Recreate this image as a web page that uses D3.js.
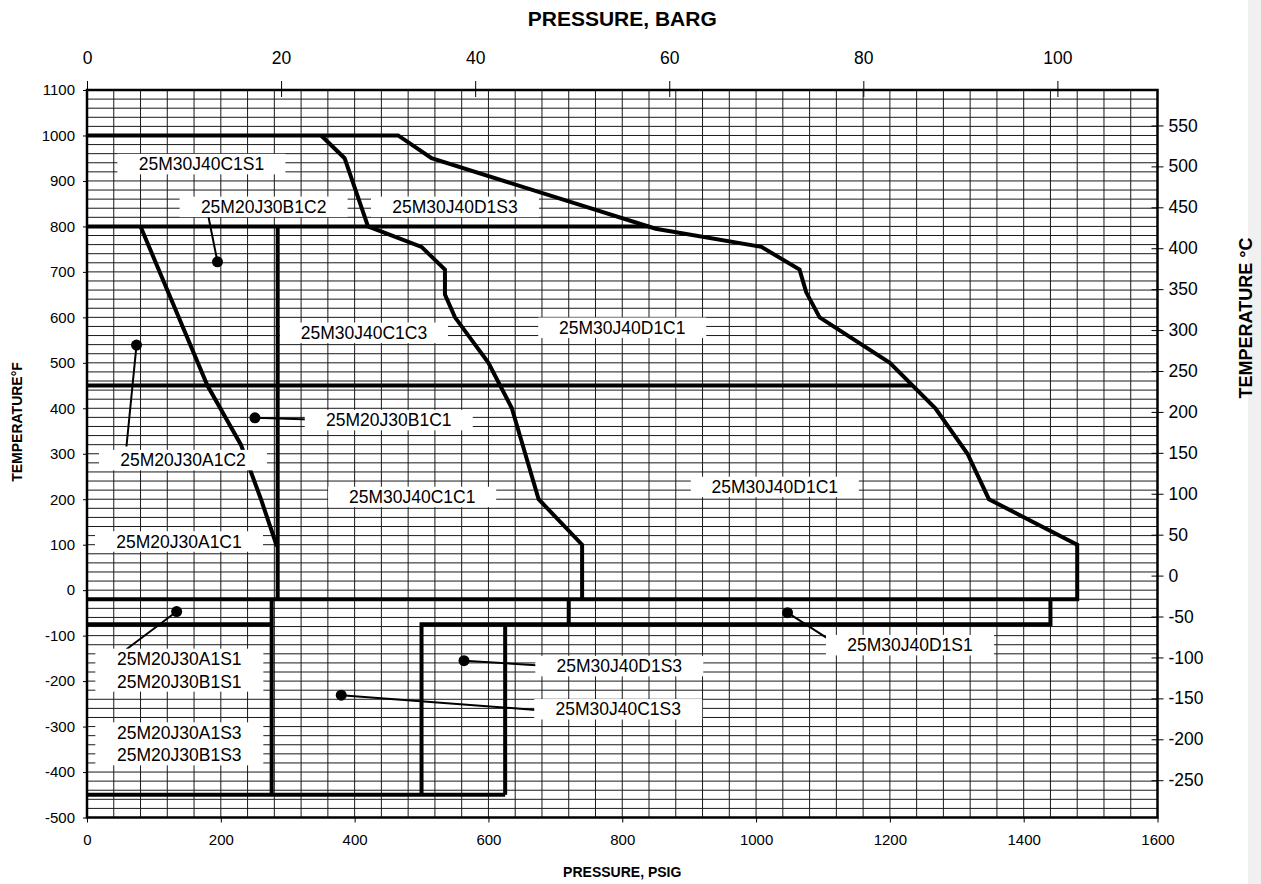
<!DOCTYPE html>
<html><head><meta charset="utf-8">
<script src="https://cdn.jsdelivr.net/npm/d3@7"></script>
<style>
body{margin:0;background:#fff;}
svg{display:block;font-family:"Liberation Sans",Arial,sans-serif;}
</style></head>
<body><svg id="c" width="1261" height="884"></svg>
<script>
// ---- data ----
const psigTicks = [0,200,400,600,800,1000,1200,1400,1600];
const bargTicks = [0,20,40,60,80,100];
const tempFTicks = [-500,-400,-300,-200,-100,0,100,200,300,400,500,600,700,800,900,1000,1100];
const tempCTicks = [-250,-200,-150,-100,-50,0,50,100,150,200,250,300,350,400,450,500,550];

// boundary lines: [psig, °F]
const lineD1 = [[0,1000],[465,1000],[515,950],[850,795],[1008,755],[1065,705],[1075,655],[1095,600],[1200,500],[1268,400],[1316,300],[1348,200],[1480,100],[1480,-20],[0,-20]];
const lineC1 = [[350,1000],[385,950],[420,800],[500,755],[535,705],[535,650],[550,600],[600,500],[635,400],[675,200],[740,100],[740,-20]];
const line800 = [[0,800],[840,800]];
const line450 = [[0,450],[1234,450]];
const lineB1 = [[285,800],[285,-20]];
const lineA1 = [[80,800],[180,450],[230,320],[260,200],[283,100],[285,100]];
const lineMinus75Left = [[0,-75],[276,-75]];
const lineLowVert = [[276,-20],[276,-450]];
const lineBottom = [[0,-450],[625,-450]];
const lineS = [[500,-450],[500,-75],[1440,-75],[1440,-20]];
const lineStep720 = [[720,-20],[720,-75]];
const line625 = [[625,-75],[625,-450]];
const boundaries = [lineD1,lineC1,line800,line450,lineB1,lineA1,lineMinus75Left,lineLowVert,lineBottom,lineS,lineStep720,line625];

// region labels: text lines, anchor [psig, °F]
const labelTexts = [
  ["25M30J40C1S1"],["25M20J30B1C2"],["25M30J40D1S3"],["25M30J40C1C3"],["25M30J40D1C1"],
  ["25M20J30A1C2"],["25M20J30B1C1"],["25M30J40C1C1"],["25M30J40D1C1"],["25M20J30A1C1"],
  ["25M30J40D1S1"],["25M20J30A1S1","25M20J30B1S1"],["25M30J40D1S3"],["25M30J40C1S3"],
  ["25M20J30A1S3","25M20J30B1S3"]
];
const labelPsig = [171,264,550,414,800,143.5,451,486,1028,137.5,1230,138,795.6,794,138];
const labelTempF = [937,843,843,566,577,286,374,205,227,107,-121,-176,-167,-262,-338];

// pointer dots [psig, °F] and leader ends [psig, °F]
const dotPts = [[195,722],[74,539],[251,379],[134,-47],[380,-231],[563.5,-155],[1047,-49.5]];
const leaderEnds = [[181,825],[59,316],[346,375],[59,-130],[684.5,-265],[689.5,-167],[1130,-128]];

// ---- drawing ----
const svg = d3.select("#c");
const X0=87, X1=1157.5, Y0=90, Y1=817.5;
const x = d3.scaleLinear().domain([0,1600]).range([X0,X1]);
const xB = d3.scaleLinear().domain([0,1600/14.5038]).range([X0,X1]);
const y = d3.scaleLinear().domain([-500,1100]).range([Y1,Y0]);
const yC = d3.scaleLinear().domain([(-500-32)/1.8,(1100-32)/1.8]).range([Y1,Y0]);
const fmt = d => String(d);

svg.append("rect").attr("x",1248).attr("y",0).attr("width",13).attr("height",884).attr("fill","#f0f0f0");

// grid
const g = svg.append("g");
g.selectAll("line.v").data(d3.range(40,1600,40)).join("line")
  .attr("x1",d=>x(d)).attr("x2",d=>x(d)).attr("y1",Y0).attr("y2",Y1)
  .attr("stroke","#1a1a1a").attr("stroke-width",1);
g.selectAll("line.h").data(d3.range(-480,1100,20)).join("line")
  .attr("y1",d=>y(d)).attr("y2",d=>y(d)).attr("x1",X0).attr("x2",X1)
  .attr("stroke","#1a1a1a").attr("stroke-width",1);

// boundaries
const line = d3.line().x(d=>x(d[0])).y(d=>y(d[1]));
svg.append("g").selectAll("path").data(boundaries).join("path")
  .attr("d",line).attr("fill","none").attr("stroke","#000").attr("stroke-width",4)
  .attr("stroke-linejoin","miter");

// leaders & dots
svg.append("g").selectAll("line").data(dotPts).join("line")
  .attr("x1",d=>x(d[0])).attr("y1",d=>y(d[1]))
  .attr("x2",(d,i)=>x(leaderEnds[i][0])).attr("y2",(d,i)=>y(leaderEnds[i][1]))
  .attr("stroke","#000").attr("stroke-width",2);
svg.append("g").selectAll("circle").data(dotPts).join("circle")
  .attr("cx",d=>x(d[0])).attr("cy",d=>y(d[1])).attr("r",5.5).attr("fill","#000");

// labels
const LF=17.5, LH=22.5;
const lg = svg.append("g").selectAll("g").data(labelTexts).join("g")
  .attr("transform",(d,i)=>`translate(${x(labelPsig[i])},${y(labelTempF[i])})`);
lg.each(function(d){
  const s = d3.select(this);
  const n = d.length;
  const h = n*LH-2;
  s.append("rect").attr("x",-84).attr("width",168).attr("y",-h/2).attr("height",h).attr("fill","#fff");
  d.forEach((t,k)=>{
    s.append("text").attr("text-anchor","middle").attr("font-size",LF)
      .attr("y",(k-(n-1)/2)*LH).attr("dy","0.35em").text(t);
  });
});

// axes
const axL = svg.append("g").attr("transform",`translate(${X0},0)`)
  .call(d3.axisLeft(y).tickValues(tempFTicks).tickFormat(fmt).tickSize(4).tickPadding(8));
const axB = svg.append("g").attr("transform",`translate(0,${Y1})`)
  .call(d3.axisBottom(x).tickValues(psigTicks).tickFormat(fmt).tickSize(5).tickPadding(12));
const axT = svg.append("g").attr("transform",`translate(0,${Y0})`)
  .call(d3.axisTop(xB).tickValues(bargTicks).tickFormat(fmt).tickSize(9).tickPadding(17));
axT.selectAll(".tick line").attr("y2",7).attr("y1",-9);
const axR = svg.append("g").attr("transform",`translate(${X1},0)`)
  .call(d3.axisRight(yC).tickValues(tempCTicks).tickFormat(fmt).tickSize(6).tickPadding(5));
axR.selectAll(".tick line").attr("x1",-6);
[axL,axB,axT,axR].forEach(a=>{
  a.selectAll("text").attr("font-family","Liberation Sans, Arial, sans-serif").attr("fill","#000");
  a.selectAll("line").attr("stroke","#000");
  a.select(".domain").attr("stroke","none");
});
axL.selectAll("text").attr("font-size",15);
axB.selectAll("text").attr("font-size",15);
axT.selectAll("text").attr("font-size",17.5);
axR.selectAll("text").attr("font-size",17.5);

// frame
svg.append("rect").attr("x",X0).attr("y",Y0).attr("width",X1-X0).attr("height",Y1-Y0)
  .attr("fill","none").attr("stroke","#000").attr("stroke-width",2.5);

// titles
svg.append("text").attr("x",(X0+X1)/2).attr("y",26).attr("text-anchor","middle")
  .attr("font-weight","bold").attr("font-size",21).text("PRESSURE, BARG");
svg.append("text").attr("x",(X0+X1)/2).attr("y",877).attr("text-anchor","middle")
  .attr("font-weight","bold").attr("font-size",14).text("PRESSURE, PSIG");
svg.append("text").attr("transform","translate(22,422) rotate(-90)").attr("text-anchor","middle")
  .attr("font-weight","bold").attr("font-size",14).text("TEMPERATURE°F");
svg.append("text").attr("transform","translate(1252,318) rotate(-90)").attr("text-anchor","middle")
  .attr("font-weight","bold").attr("font-size",18).text("TEMPERATURE °C");
</script></body></html>
